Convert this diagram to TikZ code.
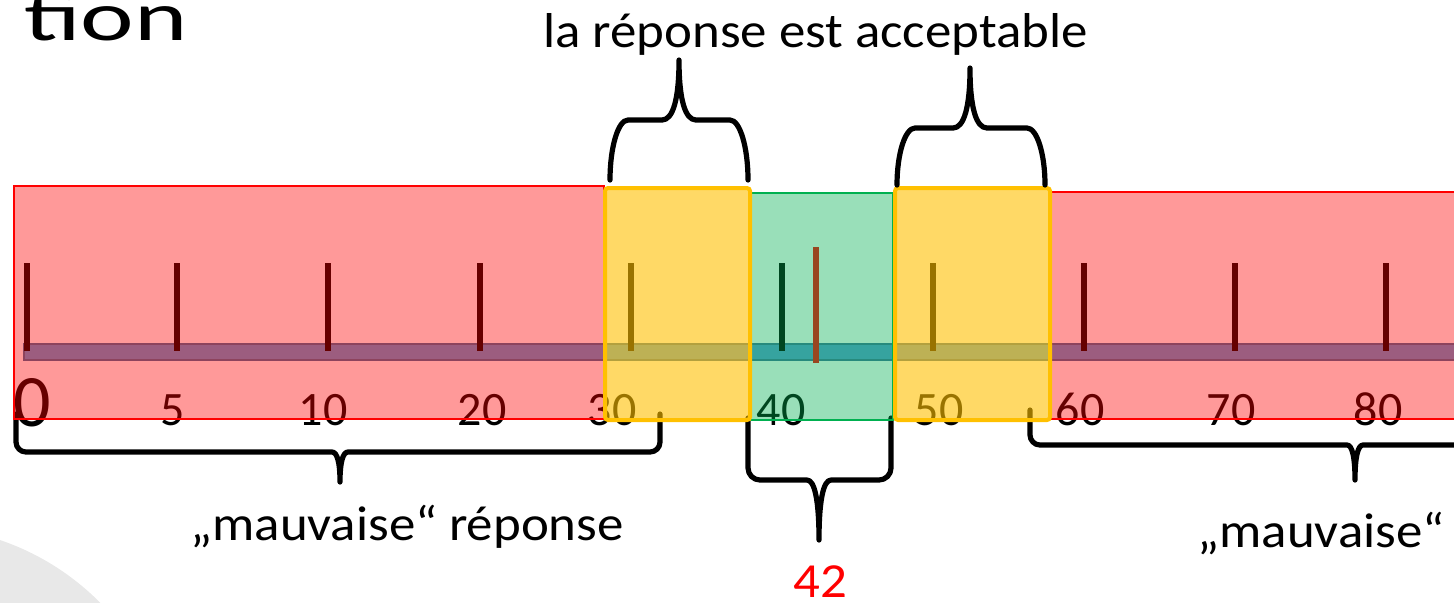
\documentclass[tikz,border=0pt]{standalone}
\usepackage{fontspec}
\setmainfont{Carlito}
\definecolor{myred}{HTML}{FF0000}
\definecolor{mygreen}{HTML}{00B050}
\definecolor{myyellow}{HTML}{FFC000}
\definecolor{barfill}{HTML}{5B9BD5}
\definecolor{barline}{HTML}{41719C}
\definecolor{blobgray}{HTML}{E8E8E8}
\tikzset{
  bracestyle/.style={draw=black, line width=2.6pt, line cap=round, line join=round},
  tickmark/.style={line width=3pt},
  numlabel/.style={font=\fontsize{24}{28}\selectfont, inner sep=0pt, anchor=base},
  txt/.style={font=\fontsize{24.5}{29}\selectfont, inner sep=0pt},
  redzone/.style={fill=myred, fill opacity=0.4, draw=myred, line width=0.8pt},
  greenzone/.style={fill=mygreen, fill opacity=0.4, draw=mygreen, line width=0.8pt},
  yellowzone/.style={fill=myyellow, fill opacity=0.6, draw=myyellow, line width=2pt, rounded corners=1.5pt},
}
% #1 xa, #2 xb, #3 end y, #4 corner start y, #5 horizontal y, #6 tip x, #7 tip y, #8 corner width, #9 cusp width
\newcommand{\mybrace}[9]{%
  \draw[bracestyle] (#1,#3) -- (#1,#4)
    .. controls (#1,{#4+0.55*(#5-#4)}) and ({#1+0.45*#8},#5) .. ({#1+#8},#5)
    -- ({#6-#9},#5)
    .. controls ({#6-0.35*#9},#5) and (#6,{#5+0.35*(#7-#5)}) .. (#6,#7)
    .. controls (#6,{#5+0.35*(#7-#5)}) and ({#6+0.35*#9},#5) .. ({#6+#9},#5)
    -- ({#2-#8},#5)
    .. controls ({#2-0.45*#8},#5) and (#2,{#4+0.55*(#5-#4)}) .. (#2,#4)
    -- (#2,#3);}
\begin{document}
\begin{tikzpicture}[x=0.5pt,y=-0.5pt]
\useasboundingbox (0,0) rectangle (1454,602);
\clip (0,0) rectangle (1454,602);
% background blob
\fill[blobgray] (-82.5,783.5) circle (257);
% number line bar
\draw[fill=barfill, draw=barline, line width=0.6pt] (24,344) rectangle (1480,360);
% ticks
\foreach \x in {27,177,328,480,631,782,933,1084,1235,1386}
  \draw[tickmark] (\x,263) -- (\x,351);
\draw[tickmark, myred] (816,247) -- (816,363);
% numbers
\node[numlabel, font=\fontsize{37}{42}\selectfont] (n0) at (32,426) {0};
\foreach \x/\t in {173/5,323/10,482/20,612/30,781/40,939/50,1080/60,1231/70,1378/80}
  \node[numlabel] (n\t) at (\x,425) {\t};
% bottom braces
\mybrace{16}{660}{414}{442}{452}{340}{482}{10}{8}
\mybrace{748}{891}{418}{468}{480}{819}{540}{12}{12}
\mybrace{1030}{1680}{410}{435}{445}{1355}{480}{10}{8}
% zones
\draw[redzone] (14,186) rectangle (604,419);
\draw[redzone] (1050,192) rectangle (1480,419);
\draw[greenzone] (749,193) rectangle (893,420);
\draw[yellowzone] (605,188) rectangle (750,420);
\draw[yellowzone] (895,188) rectangle (1050,420);
% top braces
\mybrace{610}{748}{180}{180}{120}{679}{60}{18}{17}
\mybrace{897}{1045}{185}{185}{128}{970}{68}{18}{17}
% texts
\node[font=\fontsize{35}{40}\selectfont, inner sep=0pt, anchor=base east] (title) at (188,40) {\scalebox{1.45}[1]{tion}};
\node[txt, anchor=base] (top) at (815.5,47) {\scalebox{1.08}[1]{la réponse est acceptable}};
\node[txt, anchor=base] (badL) at (407,540) {\scalebox{1.08}[1]{„mauvaise“ réponse}};
\node[txt, anchor=base west] (badR) at (1197,547) {\scalebox{1.08}[1]{„mauvaise“}};
\node[txt, anchor=base, text=myred, text depth=0pt] (ans) at (820,597) {\scalebox{1.08}[1]{42}};
\end{tikzpicture}
\end{document}
